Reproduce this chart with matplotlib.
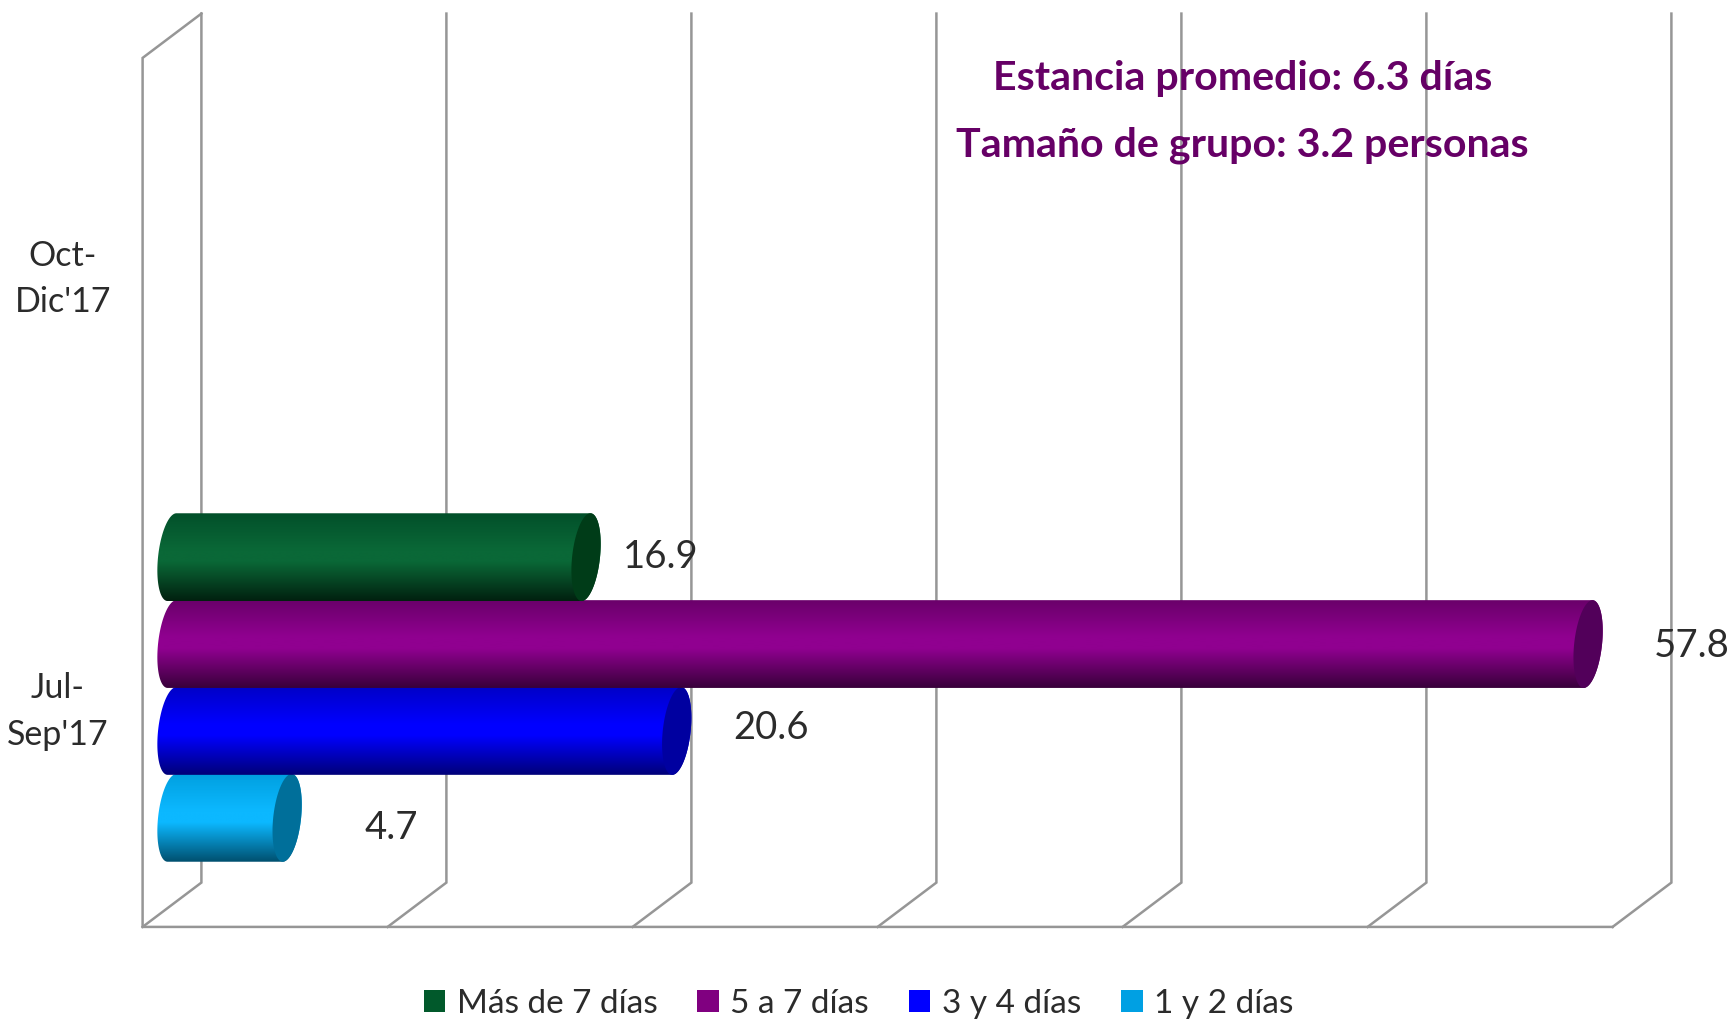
import numpy as np
import matplotlib
matplotlib.use("Agg")
import matplotlib.pyplot as plt
from matplotlib.colors import LinearSegmentedColormap
from matplotlib.patches import Patch, Polygon

plt.rcParams['font.family'] = ['Lato', 'DejaVu Sans']

# ---------------- DATA ----------------
categories = ["Jul-\nSep'17", "Oct-\nDic'17"]
series_names = ["Más de 7 días", "5 a 7 días", "3 y 4 días", "1 y 2 días"]
mas_de_7 = [16.9, None]
de_5_a_7 = [57.8, None]
de_3_a_4 = [20.6, None]
de_1_a_2 = [4.7, None]
value_ticks = [0, 10, 20, 30, 40, 50, 60]
notes = ["Estancia promedio: 6.3 días", "Tamaño de grupo: 3.2 personas"]

# ---------------- STYLE ----------------
W, H = 1733, 1021
PX_PER_UNIT = 24.5
X0_PX = 172
PX_PER_CAT = 434.5
Y0_PX = 687.5
BAR_H = 0.202
DEPTH_X = 1.2
DEPTH_Y = 0.051
CAP_A = 0.57
CAP_S = 0.18
GRID = "#969696"
TEXT = "#2b2b2b"
NOTE = "#660066"

legend_colors = ["#01592b", "#800080", "#0000ff", "#00a0e3"]
# top, peak, bottom, cap
shades = [
    ("#02502a", "#0a6837", "#01200f", "#003c18"),
    ("#6a006a", "#900090", "#38003a", "#52005a"),
    ("#0000c8", "#0000ff", "#000078", "#0000a0"),
    ("#00a0e0", "#0cb8ff", "#004f6e", "#006f9a"),
]
# offset of each value label from the bar end, in pixels
label_offsets = [(75, 0), (104, -2), (94, 3), (104, -10)]


def ellipse(cx, cy, t):
    x = cx + CAP_A * np.cos(t) + CAP_S * np.sin(t)
    y = cy + BAR_H / 2 * np.sin(t)
    return np.column_stack([x, y])


def draw_cylinder(ax, value, cy, colors, zorder):
    top, peak, bottom, cap = colors
    cmap = LinearSegmentedColormap.from_list("bar", [(0, top), (0.42, peak), (0.55, peak), (1, bottom)])
    right = ellipse(value, cy, np.linspace(np.pi / 2, -np.pi / 2, 60))
    left = ellipse(0, cy, np.linspace(-np.pi / 2, -3 * np.pi / 2, 60))
    body = Polygon(np.vstack([right, left]), closed=True, transform=ax.transData, fc="none", ec="none")
    ax.add_patch(body)
    grad = np.linspace(0, 1, 256).reshape(-1, 1)
    im = ax.imshow(grad, cmap=cmap, aspect="auto", origin="upper", interpolation="bilinear",
                   extent=(-1, value + 1, cy - BAR_H / 2, cy + BAR_H / 2), zorder=zorder)
    im.set_clip_path(body)
    end = ellipse(value, cy, np.linspace(0, 2 * np.pi, 120))
    ax.add_patch(Polygon(end, closed=True, fc=cap, ec="none", zorder=zorder + 0.1))


fig = plt.figure(figsize=(W / 100, H / 100), dpi=100)
ax = fig.add_axes([0, 0, 1, 1])
xlim = (-X0_PX / PX_PER_UNIT, (W - X0_PX) / PX_PER_UNIT)
ylim = ((Y0_PX - H) / PX_PER_CAT, Y0_PX / PX_PER_CAT)
ax.axis("off")

# walls and gridlines
y_low, y_high = -0.5, len(categories) - 0.5
line = dict(color=GRID, lw=1.8, solid_joinstyle="miter", zorder=1)
for v in value_ticks:
    ax.plot([v - DEPTH_X, v + DEPTH_X, v + DEPTH_X],
            [y_low - DEPTH_Y, y_low + DEPTH_Y, y_high + DEPTH_Y], **line)
ax.plot([value_ticks[-1] - DEPTH_X, value_ticks[0] - DEPTH_X, value_ticks[0] - DEPTH_X, value_ticks[0] + DEPTH_X],
        [y_low - DEPTH_Y, y_low - DEPTH_Y, y_high - DEPTH_Y, y_high + DEPTH_Y], **line)

# bars, lowest first so the upper ones sit on top
all_series = [mas_de_7, de_5_a_7, de_3_a_4, de_1_a_2]
n = len(all_series)
for i in range(n - 1, -1, -1):
    cy_off = (n - 1 - 2 * i) / 2 * 0.2
    for c in range(len(categories)):
        val = all_series[i][c]
        if val is None:
            continue
        draw_cylinder(ax, val, c + cy_off, shades[i], 3 + (n - i))
        ax.annotate(f"{val:.1f}", (val, c + cy_off), xytext=label_offsets[i], textcoords="offset pixels",
                    ha="center", va="center", fontsize=27.5, color=TEXT, zorder=10)

# category labels
cat_offsets = [(58, -24), (63, -26)]
for c, name in enumerate(categories):
    ax.annotate(name, (xlim[0], c), xytext=cat_offsets[c], textcoords="offset pixels",
                ha="center", va="center", fontsize=24.5, color=TEXT, linespacing=1.55, multialignment="center")

# notes
for note, note_y in zip(notes, [1.402, 1.249]):
    ax.text(43.7, note_y, note, ha="center", va="center", fontsize=29.6, fontweight="bold", color=NOTE, zorder=10)

handles = [Patch(fc=col, ec="none") for col in legend_colors]
ax.legend(handles, series_names, loc="lower center", bbox_to_anchor=(0.4955, -0.021), ncol=4, frameon=False,
          fontsize=24, handlelength=0.64, handleheight=0.64, handletextpad=0.35, columnspacing=1.2,
          labelcolor=TEXT, borderpad=0.2)

ax.set_xlim(xlim)
ax.set_ylim(ylim)
fig.savefig("out.png", dpi=100, facecolor="white")
